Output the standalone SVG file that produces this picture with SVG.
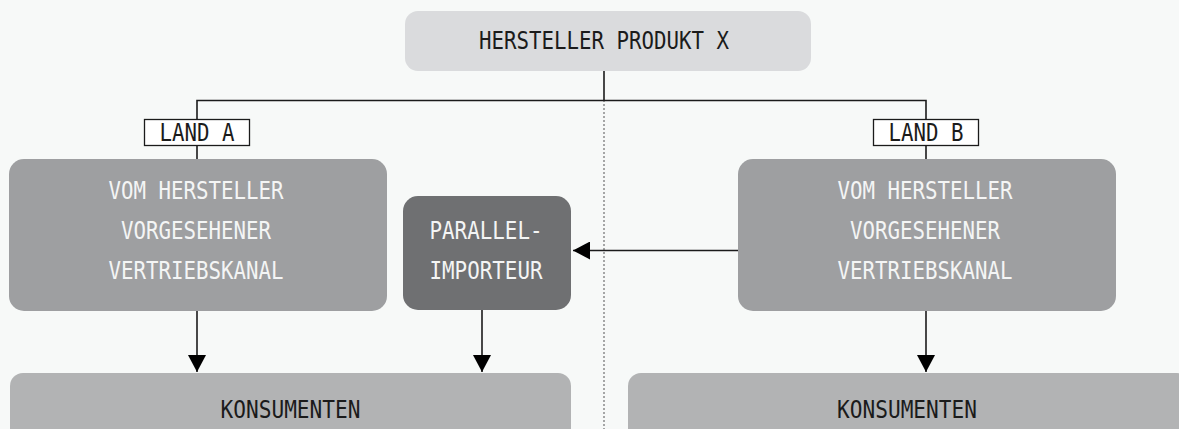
<svg xmlns="http://www.w3.org/2000/svg" width="1179" height="429" viewBox="0 0 1179 429">
<defs>
<style>
.t{font-family:"DejaVu Sans Mono","Liberation Mono",monospace;font-size:24px;text-anchor:middle}
.dk{fill:#1b1b1b}
.lt{fill:#f4f5f5}
.ln{stroke:#1b1b1b;stroke-width:1.6;fill:none}
</style>
<marker id="ah" markerUnits="userSpaceOnUse" markerWidth="17" markerHeight="18" refX="17" refY="9" orient="auto" viewBox="0 0 17 18">
<path d="M0,0 L17,9 L0,18 Z" fill="#000"/>
</marker>
</defs>
<rect width="1179" height="429" fill="#f7f9f8"/>
<g id="connectors">
<line x1="604" y1="100" x2="604" y2="429" stroke="#7a7a7a" stroke-width="1.3" stroke-dasharray="2,2"/>
<line class="ln" x1="604" y1="71" x2="604" y2="100.5"/>
<polyline class="ln" points="197,159 197,100.5 926,100.5 926,159"/>
<line class="ln" x1="197" y1="311" x2="197" y2="372" marker-end="url(#ah)"/>
<line class="ln" x1="482" y1="310" x2="482" y2="372" marker-end="url(#ah)"/>
<line class="ln" x1="926" y1="311" x2="926" y2="372" marker-end="url(#ah)"/>
<line class="ln" x1="738" y1="250.5" x2="573" y2="250.5" marker-end="url(#ah)"/>
</g>
<g id="hersteller">
<rect x="405" y="11" width="406" height="60" rx="13" fill="#dadbdd"/>
<text class="t dk" x="604" y="49" textLength="250" lengthAdjust="spacingAndGlyphs">HERSTELLER PRODUKT X</text>
</g>
<g id="landA">
<rect x="144.5" y="119.5" width="105" height="26" fill="#fff" stroke="#1b1b1b" stroke-width="1.3"/>
<text class="t dk" x="197" y="141" textLength="75" lengthAdjust="spacingAndGlyphs">LAND A</text>
</g>
<g id="landB">
<rect x="873.5" y="119.5" width="105" height="26" fill="#fff" stroke="#1b1b1b" stroke-width="1.3"/>
<text class="t dk" x="926" y="141" textLength="75" lengthAdjust="spacingAndGlyphs">LAND B</text>
</g>
<g id="vertriebA">
<rect x="9" y="159" width="378" height="152" rx="15" fill="#9e9fa1"/>
<text class="t lt" x="196" y="199" textLength="175" lengthAdjust="spacingAndGlyphs">VOM HERSTELLER</text>
<text class="t lt" x="196" y="239" textLength="150" lengthAdjust="spacingAndGlyphs">VORGESEHENER</text>
<text class="t lt" x="196" y="279" textLength="175" lengthAdjust="spacingAndGlyphs">VERTRIEBSKANAL</text>
</g>
<g id="importeur">
<rect x="403" y="196" width="168" height="114" rx="15" fill="#6f7072"/>
<text class="t lt" x="486" y="239" textLength="113" lengthAdjust="spacingAndGlyphs">PARALLEL-</text>
<text class="t lt" x="486" y="279" textLength="113" lengthAdjust="spacingAndGlyphs">IMPORTEUR</text>
</g>
<g id="vertriebB">
<rect x="738" y="159" width="378" height="152" rx="15" fill="#9e9fa1"/>
<text class="t lt" x="925" y="199" textLength="175" lengthAdjust="spacingAndGlyphs">VOM HERSTELLER</text>
<text class="t lt" x="925" y="239" textLength="150" lengthAdjust="spacingAndGlyphs">VORGESEHENER</text>
<text class="t lt" x="925" y="279" textLength="175" lengthAdjust="spacingAndGlyphs">VERTRIEBSKANAL</text>
</g>
<g id="konsumentenA">
<rect x="10" y="373" width="561" height="80" rx="13" fill="#b2b3b4"/>
<text class="t dk" x="290.5" y="418" textLength="140" lengthAdjust="spacingAndGlyphs">KONSUMENTEN</text>
</g>
<g id="konsumentenB">
<rect x="628" y="373" width="562" height="80" rx="13" fill="#b2b3b4"/>
<text class="t dk" x="907" y="418" textLength="140" lengthAdjust="spacingAndGlyphs">KONSUMENTEN</text>
</g>
</svg>
